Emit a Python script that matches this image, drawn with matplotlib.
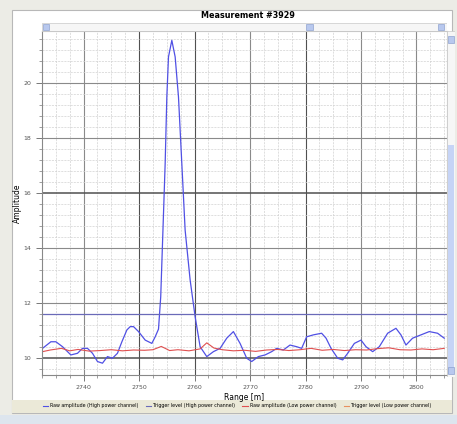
import matplotlib
matplotlib.use("Agg")
import matplotlib.pyplot as plt
from matplotlib.patches import Rectangle
from matplotlib.lines import Line2D
from matplotlib.ticker import MultipleLocator, AutoMinorLocator

# raw amplitude, high power channel (blue trace)
range_high = [2732.6, 2734.1, 2735.0, 2736.2, 2737.7, 2738.9, 2739.8, 2740.7, 2741.6, 2742.5,
              2743.4, 2744.3, 2745.2, 2746.1, 2746.9, 2747.8, 2748.4, 2749.0, 2749.9, 2751.1,
              2752.3, 2752.9, 2753.5, 2753.9, 2754.3, 2754.7, 2755.0, 2755.3, 2755.9, 2756.5,
              2757.1, 2757.7, 2758.3, 2759.2, 2760.1, 2761.0, 2762.2, 2763.4, 2764.6, 2765.8,
              2767.0, 2768.2, 2769.4, 2770.3, 2771.5, 2772.7, 2773.9, 2774.8, 2776.0, 2777.2,
              2778.4, 2779.3, 2780.2, 2781.4, 2782.9, 2783.7, 2784.6, 2785.8, 2786.7, 2787.6,
              2788.8, 2790.0, 2790.9, 2792.1, 2793.3, 2794.8, 2796.3, 2797.2, 2798.1, 2799.3,
              2800.8, 2802.3, 2803.8, 2805.0]
amp_high = [10.35, 10.59, 10.59, 10.41, 10.11, 10.17, 10.35, 10.35, 10.17, 9.87,
            9.81, 10.05, 9.99, 10.17, 10.59, 11.02, 11.14, 11.14, 10.96, 10.65,
            10.53, 10.77, 11.05, 12.23, 14.65, 17.08, 19.5, 20.96, 21.56, 20.96,
            19.5, 17.08, 14.65, 12.84, 11.5, 10.41, 10.05, 10.23, 10.35, 10.72,
            10.96, 10.53, 9.99, 9.87, 10.05, 10.11, 10.23, 10.35, 10.29, 10.47,
            10.41, 10.35, 10.77, 10.84, 10.9, 10.72, 10.35, 9.99, 9.93, 10.17,
            10.53, 10.65, 10.41, 10.23, 10.41, 10.9, 11.08, 10.84, 10.47, 10.72,
            10.84, 10.96, 10.9, 10.72]

# raw amplitude, low power channel (red trace)
range_low = [2732.6, 2734, 2736, 2737.5, 2739, 2741, 2743, 2745, 2747, 2749,
             2751, 2752.5, 2754, 2755.5, 2757, 2759, 2761, 2762.2, 2763.5, 2765,
             2767, 2769, 2771, 2773, 2775, 2777, 2779, 2781, 2783, 2785,
             2787, 2789, 2791, 2793, 2795, 2797, 2799, 2801, 2803, 2805]
amp_low = [10.23, 10.29, 10.35, 10.26, 10.31, 10.25, 10.27, 10.30, 10.26, 10.29,
           10.28, 10.30, 10.42, 10.27, 10.30, 10.26, 10.33, 10.55, 10.36, 10.30,
           10.26, 10.28, 10.24, 10.29, 10.31, 10.27, 10.30, 10.35, 10.28, 10.31,
           10.27, 10.30, 10.29, 10.34, 10.37, 10.30, 10.29, 10.33, 10.30, 10.35]

trigger_high = 11.6

legend_labels = ["Raw amplitude (High power channel)", "Trigger level (High power channel)",
                 "Raw amplitude (Low power channel)", "Trigger level (Low power channel)"]
legend_colors = ["#5050e4", "#6a6ab8", "#e05050", "#e89060"]

W, H = 457, 424
fig = plt.figure(figsize=(W / 100, H / 100), dpi=100)
fig.patch.set_facecolor("#ecece6")

def px(x0, y0, x1, y1):
    # pixel box -> figure fraction rect
    return [x0 / W, 1 - y1 / H, (x1 - x0) / W, (y1 - y0) / H]

# white panel, legend strip, bottom strip (behind the axes)
fig.add_artist(Rectangle((12 / W, 1 - 413 / H), 440 / W, 403 / H, transform=fig.transFigure,
                         facecolor="white", edgecolor="#b8b8b8", lw=0.8, zorder=-5))
fig.add_artist(Rectangle((12 / W, 1 - 413 / H), 440 / W, 13 / H, transform=fig.transFigure,
                         facecolor="#ebe9d8", edgecolor="none", zorder=-4))
fig.add_artist(Rectangle((0, 0), 1, 9 / H, transform=fig.transFigure,
                         facecolor="#dde5ee", edgecolor="none", zorder=-4))

fig.text(248 / W, 1 - 15 / H, "Measurement #3929", ha="center", va="center",
         fontsize=5.8, fontweight="bold")

ax = fig.add_axes(px(42, 31, 447, 375))
ax.set_facecolor("white")
ax.plot(range_high, amp_high, color=legend_colors[0], lw=0.9)
ax.axhline(trigger_high, color=legend_colors[1], lw=0.9)
ax.plot(range_low, amp_low, color=legend_colors[2], lw=0.8)

ax.set_xlim(2732.5, 2805.5)
ax.set_ylim(9.38, 21.9)
ax.xaxis.set_major_locator(MultipleLocator(10))
ax.xaxis.set_minor_locator(AutoMinorLocator(4))
ax.yaxis.set_major_locator(MultipleLocator(2))
ax.yaxis.set_minor_locator(AutoMinorLocator(5))

ax.grid(which="major", color="#8a8a8a", lw=0.8)
ax.grid(which="minor", color="#d2d2d2", lw=0.5, ls=(0, (3, 1.5)))
ax.set_axisbelow(True)
for v, gl in zip(ax.get_xticks(), ax.get_xgridlines()):
    if v in (2750, 2760, 2780):
        gl.set_color("#505050")
for v, gl in zip(ax.get_yticks(), ax.get_ygridlines()):
    if v in (10, 16):
        gl.set_color("#505050")
        gl.set_linewidth(1.1)

ax.tick_params(which="both", direction="out", colors="#777777", labelsize=4.5,
               labelcolor="#555555")
ax.tick_params(which="major", length=4, width=0.7)
ax.tick_params(which="minor", length=2, width=0.5)
for s in ["top", "right"]:
    ax.spines[s].set_color("#c8c8c8")
for s in ["left", "bottom"]:
    ax.spines[s].set_color("#888888")

ax.set_xlabel("Range [m]", fontsize=5.5, labelpad=2)
ax.set_ylabel("Amplitude", fontsize=5.5, labelpad=1)

# top scroll strip
sx = fig.add_axes(px(42, 23, 447, 31))
sx.set_xlim(0, 1)
sx.set_ylim(0, 1)
sx.axis("off")
sx.add_patch(Rectangle((0, 0), 1, 1, facecolor="#f6f6f6", edgecolor="#c8c8c8", lw=0.5))
for cx in (0.01, 0.66, 0.985):
    sx.add_patch(Rectangle((cx - 0.008, 0.15), 0.016, 0.7, facecolor="#b8c8ee",
                           edgecolor="#7f95c8", lw=0.4))

# right scroll strip
sy = fig.add_axes(px(447, 31, 455, 377))
sy.set_xlim(0, 1)
sy.set_ylim(0, 1)
sy.axis("off")
sy.add_patch(Rectangle((0, 0), 1, 1, facecolor="#f6f6f6", edgecolor="#c8c8c8", lw=0.5))
sy.add_patch(Rectangle((0.1, 0.01), 0.8, 0.66, facecolor="#c6d4f6", edgecolor="none"))
for cy in (0.975, 0.02):
    sy.add_patch(Rectangle((0.15, cy - 0.01), 0.7, 0.02, facecolor="#b8c8ee",
                           edgecolor="#7f95c8", lw=0.4))

handles = [Line2D([], [], color=c, lw=0.8) for c in legend_colors]
fig.legend(handles, legend_labels, loc="center", bbox_to_anchor=(237 / W, 1 - 406 / H),
           ncol=4, fontsize=3.4, frameon=False, handlelength=1.2, columnspacing=1.5,
           handletextpad=0.4)

fig.savefig("out.png", dpi=100, facecolor=fig.get_facecolor())
